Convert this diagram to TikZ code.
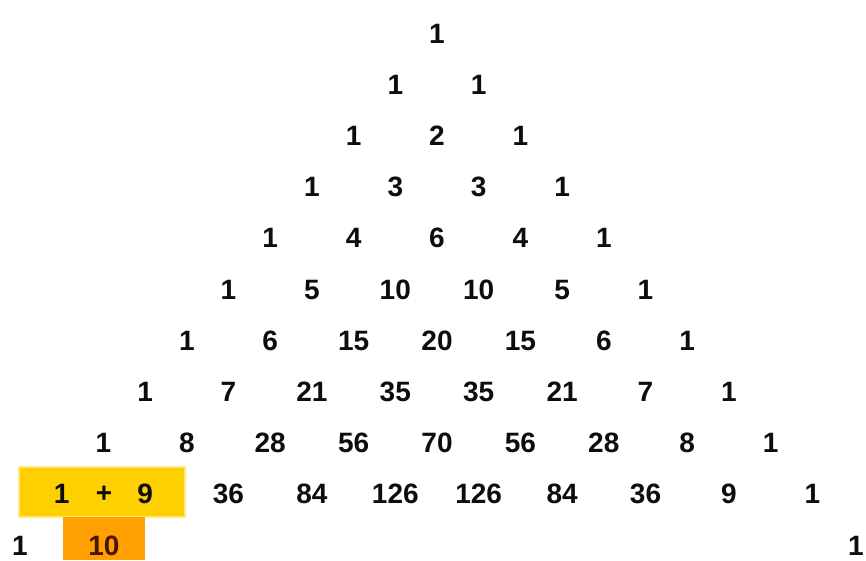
\documentclass[tikz,border=0pt]{standalone}
\usepackage{fontspec}
\setmainfont{Liberation Sans}
\usetikzlibrary{positioning}
\definecolor{sumyellow}{HTML}{FFD000}
\definecolor{sumedge}{HTML}{FFE680}
\definecolor{resorange}{HTML}{FF9F00}
\definecolor{resbrown}{HTML}{4A1500}

\begin{document}
\begin{tikzpicture}[x=1pt, y=1pt,
  num/.style={font=\fontsize{28}{28}\selectfont\bfseries, inner sep=0pt, text height=20pt, text depth=0pt, text=black!95},
  sumbox/.style={draw=sumedge, line width=1.5pt, fill=sumyellow, minimum width=166pt, minimum height=50pt, inner sep=0pt},
  resbox/.style={fill=resorange, minimum width=82pt, minimum height=43pt, inner sep=0pt}
]
\fill[white] (0,0) rectangle (866,-560);
\useasboundingbox (0,0) rectangle (866,-560);

% highlighted sum and result
\node[sumbox] (sum) at (102,-492) {};
\node[resbox] (result) at (104,-538.5) {};

% rows 0 to 9
\foreach \r/\vals in {0/{1}, 1/{1,1}, 2/{1,2,1}, 3/{1,3,3,1}, 4/{1,4,6,4,1},
    5/{1,5,10,10,5,1}, 6/{1,6,15,20,15,6,1}, 7/{1,7,21,35,35,21,7,1},
    8/{1,8,28,56,70,56,28,8,1}, 9/{1,9,36,84,126,126,84,36,9,1}} {
  \foreach \v [count=\k from 0] in \vals {
    \node[num] (n-\r-\k) at ({437+41.7*(2*\k-\r)},{-33-51.2*\r}) {\v};
  }
}
\node[num] (plus) at (104,-492) {+};

% row 10, only the first terms and the last one
\node[num] (n-10-0) at (20,-545) {1};
\node[num, text=resbrown] (n-10-1) at (104,-545) {10};
\node[num] (n-10-10) at (856,-545) {1};
\end{tikzpicture}
\end{document}
